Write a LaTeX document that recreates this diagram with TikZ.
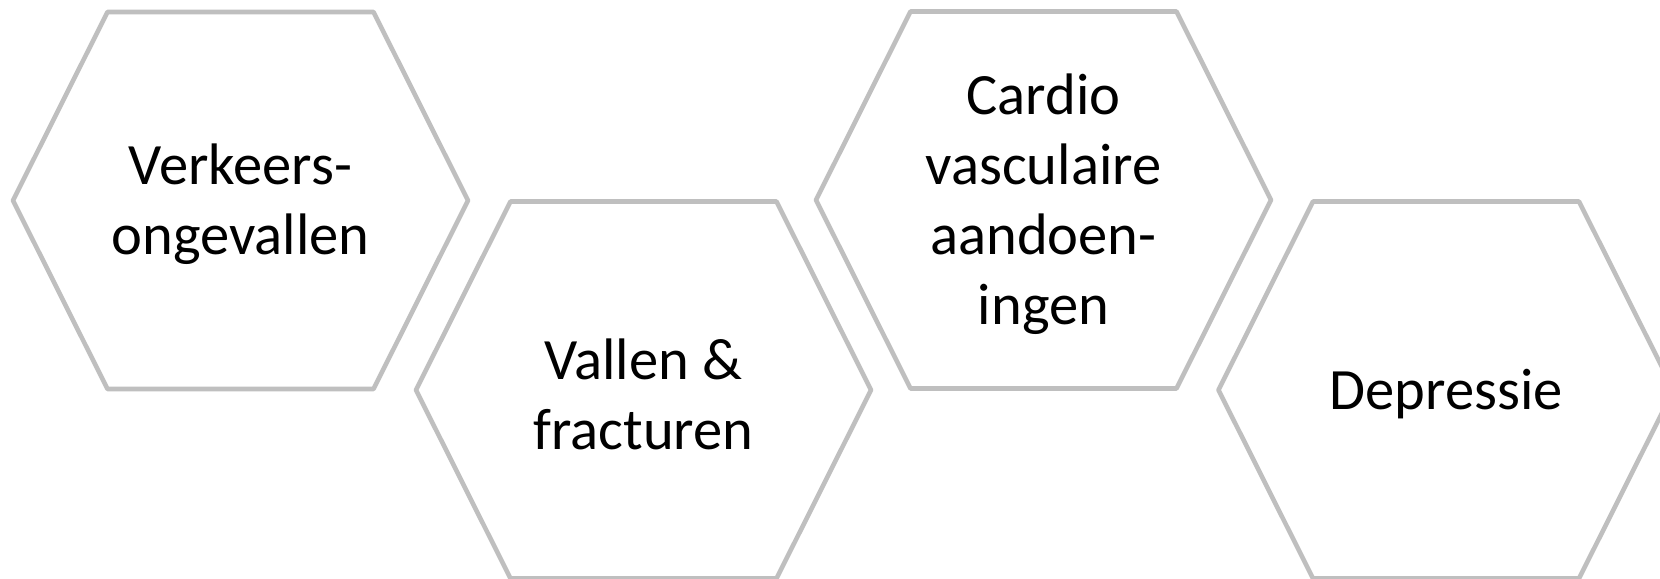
\documentclass[tikz,border=0pt]{standalone}
\usepackage{fontspec}
\setmainfont{Carlito}
\usepackage{tikz}
\usetikzlibrary{calc}

\definecolor{hexgray}{HTML}{BFBFBF}

\begin{document}
\begin{tikzpicture}[x=0.01cm, y=-0.01cm]

    \useasboundingbox [fill=white] (0, 0) rectangle (1660, 579);

    \tikzset{hexcell/.pic={
        \draw [color=hexgray, line width=1.3pt, line join=round]
            (-227.5, 0) -- (-133, -188.5) -- (133, -188.5) -- (227.5, 0)
            -- (133, 188.5) -- (-133, 188.5) -- cycle;
        }
    }
    \tikzset{celltext/.style={align=center, inner sep=0pt,
        font=\fontsize{16.65}{19.9}\selectfont}}

    \coordinate (C1) at (240.5, 200.5);
    \coordinate (C2) at ($(C1) + (403, 189.5)$);
    \coordinate (C3) at ($(C2) + (400, -190)$);
    \coordinate (C4) at ($(C3) + (402.5, 190)$);

    \pic at (C1) {hexcell};
        \node [celltext] (T1) at ($(C1) + (0, 4)$) {Verkeers-\\ongevallen};
    \pic at (C2) {hexcell};
        \node [celltext] (T2) at ($(C2) + (0, 4)$) {Vallen \&\\fracturen};
    \pic at (C3) {hexcell};
        \node [celltext] (T3) at ($(C3) + (0, 4)$) {Cardio\\vasculaire\\aandoen-\\ingen};
    \pic at (C4) {hexcell};
        \node [celltext] (T4) at ($(C4) + (0, 4)$) {Depressie};

\end{tikzpicture}
\end{document}
